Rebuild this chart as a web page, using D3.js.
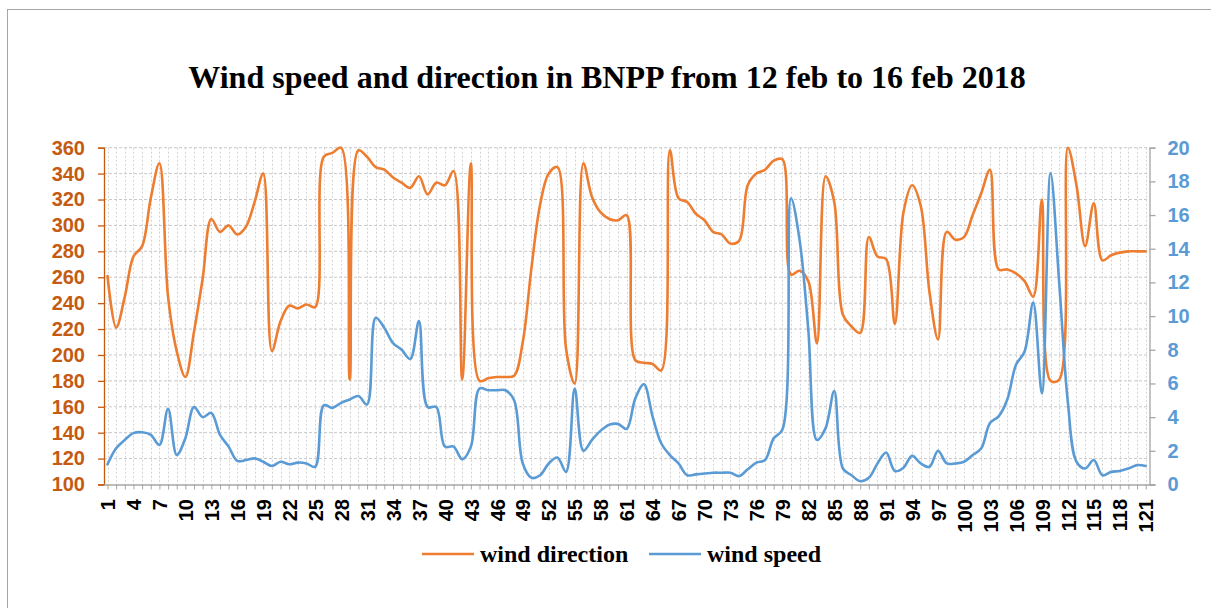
<!DOCTYPE html>
<html>
<head>
<meta charset="utf-8">
<script src="https://cdn.jsdelivr.net/npm/d3@7"></script>
<style>
  body { margin: 0; background: #fff; }
  svg { display: block; }
</style>
</head>
<body>
<svg width="1211" height="608"></svg>
<script>
'use strict'

var title = 'Wind speed and direction in BNPP from 12 feb to 16 feb 2018'

// sample number on the x axis, 1..121
var samples = d3.range(1, 122)

var direction = [
  261, 221, 245, 276, 284, 321, 348, 245, 203, 183,
  218, 259, 305, 295, 300, 293, 299, 318, 340, 203,
  226, 238, 236, 239, 237, 353, 356, 360, 181, 358,
  353, 345, 343, 337, 333, 329, 338, 324, 333, 331,
  342, 181, 348, 180, 182, 183, 183, 184, 210, 267,
  316, 340, 345, 205, 178, 348, 322, 310, 305, 304,
  308, 196, 194, 193, 188, 358, 321, 318, 309, 304,
  295, 293, 286, 288, 331, 340, 343, 350, 351, 262,
  265, 257, 209, 338, 318, 231, 222, 217, 291, 276,
  274, 224, 310, 331, 315, 249, 212, 295, 289, 291,
  308, 325, 343, 266, 266, 263, 257, 245, 320, 180,
  181, 360, 331, 284, 317, 273, 277, 279, 280, 280,
  280
]

var speed = [
  1.2, 2.15, 2.65, 3.05, 3.1, 2.95, 2.35, 4.5, 1.75, 2.75,
  4.6, 4.0, 4.25, 2.95, 2.25, 1.4, 1.45, 1.55, 1.35, 1.1,
  1.35, 1.2, 1.3, 1.25, 1.05, 4.7, 4.55, 4.85, 5.05, 5.25,
  4.75, 9.9, 9.3, 8.4, 8.0, 7.45, 9.7, 4.6, 4.6, 2.25,
  2.25, 1.5, 2.25, 5.7, 5.6, 5.6, 5.6, 5.0, 1.25, 0.4,
  0.55, 1.25, 1.6, 0.75, 5.7, 2.0, 2.65, 3.2, 3.55, 3.6,
  3.3, 5.1, 5.95, 4.05, 2.45, 1.75, 1.25, 0.55, 0.6, 0.65,
  0.7, 0.7, 0.7, 0.5, 0.9, 1.3, 1.45, 2.75, 3.25, 17.0,
  14.5, 9.2, 2.65, 3.35, 5.55, 0.95, 0.55, 0.2, 0.4, 1.25,
  1.9, 0.8, 1.0, 1.7, 1.25, 1.05, 2.0, 1.25, 1.25, 1.35,
  1.75, 2.15, 3.65, 4.05, 5.05, 7.1, 7.9, 10.8, 5.4, 18.5,
  12.0, 4.9, 1.35, 0.95, 1.45, 0.55, 0.75, 0.8, 0.95, 1.15,
  1.1
]

var leftTicks = d3.range(100, 361, 20)
var rightTicks = d3.range(0, 21, 2)

var series = [
  { name: 'wind direction', values: direction, colour: '#ED7D31', axis: 'left' },
  { name: 'wind speed', values: speed, colour: '#5B9BD5', axis: 'right' }
]

var svg = d3.select('svg')

var plot = { left: 104, right: 1149.5, top: 147.7, bottom: 484.5 }

var x = d3.scaleLinear().domain([1, 121]).range([107.5, 1145.7])
var yLeft = d3.scaleLinear().domain([100, 360]).range([plot.bottom, plot.top])
var yRight = d3.scaleLinear().domain([0, 20]).range([plot.bottom, plot.top])

// chart frame
svg.append('rect')
  .attr('x', 7.5).attr('y', 9.5)
  .attr('width', 1220).attr('height', 620)
  .attr('fill', '#fff')
  .attr('stroke', '#a6a6a6')
  .attr('stroke-width', 1)

svg.append('text')
  .attr('x', 607).attr('y', 88)
  .attr('text-anchor', 'middle')
  .style('font-family', '"Liberation Serif", "Times New Roman", serif')
  .style('font-weight', 'bold')
  .style('font-size', '32px')
  .text(title)

// gridlines
var grid = svg.append('g').attr('class', 'grid')

grid.selectAll('line.v')
  .data(samples)
  .enter().append('line')
  .attr('class', 'v')
  .attr('x1', function(d) { return Math.round(x(d)) + 0.5 })
  .attr('x2', function(d) { return Math.round(x(d)) + 0.5 })
  .attr('y1', plot.top)
  .attr('y2', plot.bottom)
  .attr('stroke', '#d4d4d4')
  .attr('stroke-dasharray', '2,2')

grid.selectAll('line.h')
  .data(leftTicks.slice(1))
  .enter().append('line')
  .attr('class', 'h')
  .attr('x1', plot.left)
  .attr('x2', plot.right)
  .attr('y1', function(d) { return yLeft(d) })
  .attr('y2', function(d) { return yLeft(d) })
  .attr('stroke', '#c8c8c8')
  .attr('stroke-dasharray', '3,2')

// left axis
var leftAxis = svg.append('g')
  .attr('transform', 'translate(' + plot.left + ',0)')
  .call(d3.axisLeft(yLeft).tickValues(leftTicks).tickSize(6).tickPadding(13))

leftAxis.select('.domain').attr('stroke', '#C55A11').attr('stroke-width', 1.3)
leftAxis.selectAll('.tick line').attr('stroke', '#C55A11').attr('stroke-width', 1.3)
leftAxis.selectAll('.tick text')
  .attr('fill', '#C55A11')
  .style('font-family', '"Liberation Sans", Arial, sans-serif')
  .style('font-weight', 'bold')
  .style('font-size', '20px')

// right axis
var rightAxis = svg.append('g')
  .attr('transform', 'translate(' + plot.right + ',0)')
  .call(d3.axisRight(yRight).tickValues(rightTicks).tickSize(6).tickPadding(12))

rightAxis.select('.domain').attr('stroke', '#a6a6a6').attr('stroke-width', 1.3)
rightAxis.selectAll('.tick line').attr('stroke', '#a6a6a6').attr('stroke-width', 1.3)
rightAxis.selectAll('.tick text')
  .attr('fill', '#5B9BD5')
  .style('font-family', '"Liberation Sans", Arial, sans-serif')
  .style('font-weight', 'bold')
  .style('font-size', '20px')

// bottom axis: ticks at every sample, labels every third
var bottomAxis = svg.append('g')
  .attr('transform', 'translate(0,' + plot.bottom + ')')
  .call(d3.axisBottom(x).tickValues(samples).tickSize(5).tickSizeOuter(0)
    .tickFormat(function(d) { return (d - 1) % 3 == 0 ? d : '' }))

bottomAxis.select('.domain')
  .attr('d', 'M' + plot.left + ',0.5H1155')
  .attr('stroke', '#a6a6a6').attr('stroke-width', 1.3)
bottomAxis.selectAll('.tick line').attr('stroke', '#a6a6a6')
bottomAxis.selectAll('.tick text')
  .attr('transform', 'translate(0,14.5) rotate(-90)')
  .attr('x', 0).attr('y', 0).attr('dy', '0.36em')
  .attr('text-anchor', 'end')
  .attr('fill', '#000')
  .style('font-family', '"Liberation Sans", Arial, sans-serif')
  .style('font-weight', 'bold')
  .style('font-size', '20px')

svg.selectAll('.domain').attr('fill', 'none')

// series lines, smoothed like the spreadsheet
series.forEach(function(s) {
  var y = s.axis == 'left' ? yLeft : yRight
  var line = d3.line()
    .x(function(d, i) { return x(samples[i]) })
    .y(function(d) { return y(d) })
    .curve(d3.curveCatmullRom.alpha(0.5))

  svg.append('path')
    .datum(s.values)
    .attr('d', line)
    .attr('fill', 'none')
    .attr('stroke', s.colour)
    .attr('stroke-width', 2.6)
    .attr('stroke-linejoin', 'round')
    .attr('stroke-linecap', 'round')
})

// legend
var legend = svg.append('g').attr('class', 'legend')
var legendX = [422, 649]

series.forEach(function(s, i) {
  legend.append('line')
    .attr('x1', legendX[i]).attr('x2', legendX[i] + 52)
    .attr('y1', 554).attr('y2', 554)
    .attr('stroke', s.colour)
    .attr('stroke-width', 2.6)

  legend.append('text')
    .attr('x', legendX[i] + 58).attr('y', 562)
    .style('font-family', '"Liberation Serif", "Times New Roman", serif')
    .style('font-weight', 'bold')
    .style('font-size', '24px')
    .text(s.name)
})
</script>
</body>
</html>
